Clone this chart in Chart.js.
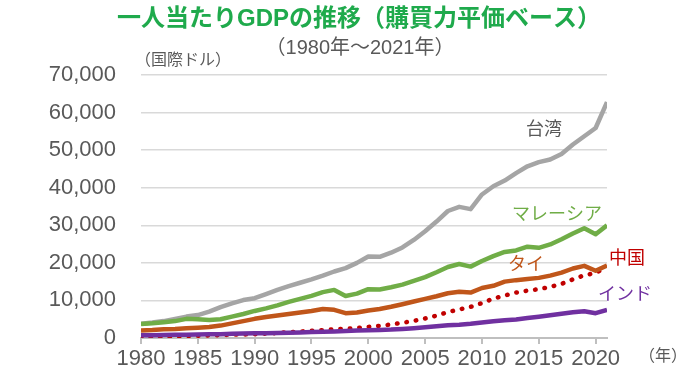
<!DOCTYPE html>
<html lang="ja">
  <head>
    <meta charset="UTF-8" />
    <title>一人当たりGDPの推移</title>
    <script src="https://cdn.jsdelivr.net/npm/chart.js@4.4.0/dist/chart.umd.min.js"></script>
    <style>
      body { margin: 0; background: #fff; }
      .contenedor { width: 700px; height: 380px; position: relative; }
    </style>
  </head>
  <body>
    <div class="contenedor">
      <canvas id="gdp"></canvas>
    </div>
    <script>
      // 1980〜2021年, 購買力平価ベース (国際ドル)
      var anios = [];
      for (var a = 1980; a <= 2021; a++) anios.push(a);

      var taiwan = [3800, 4100, 4500, 5100, 5700, 6100, 7000, 8200, 9200, 10100,
        10600, 11700, 12800, 13800, 14700, 15600, 16600, 17700, 18600, 20000,
        21700, 21600, 22700, 24100, 26100, 28400, 31000, 33800, 34900, 34300,
        38200, 40400, 41900, 43900, 45700, 46800, 47500, 49000, 51500, 53700,
        55900, 62800];
      var malasia = [3700, 3900, 4200, 4500, 5100, 5000, 4800, 5000, 5700, 6400,
        7200, 7900, 8700, 9600, 10400, 11200, 12200, 12800, 11200, 11800,
        13000, 12900, 13500, 14200, 15200, 16200, 17500, 18900, 19700, 19000,
        20500, 21800, 22900, 23300, 24300, 24000, 24900, 26300, 27800, 29200,
        27600, 30000];
      var tailandia = [2000, 2100, 2300, 2400, 2600, 2750, 2950, 3300, 3900, 4500,
        5100, 5600, 6000, 6400, 6800, 7200, 7700, 7500, 6600, 6800,
        7300, 7700, 8300, 9000, 9700, 10400, 11100, 11900, 12300, 12100,
        13300, 13900, 15000, 15400, 15700, 16000, 16600, 17400, 18500, 19200,
        17900, 19300];
      var china = [300, 340, 390, 450, 530, 610, 680, 780, 880, 950,
        1020, 1150, 1330, 1530, 1720, 1900, 2100, 2300, 2450, 2650,
        2950, 3250, 3600, 4050, 4550, 5200, 5950, 6900, 7600, 8300,
        9300, 10500, 11300, 12100, 12600, 13000, 13600, 14400, 15600, 16700,
        17300, 18900];
      var india = [700, 760, 800, 850, 890, 940, 980, 1020, 1110, 1180,
        1250, 1260, 1330, 1400, 1480, 1580, 1690, 1750, 1840, 1980,
        2050, 2150, 2240, 2420, 2620, 2850, 3100, 3400, 3550, 3800,
        4150, 4450, 4700, 4950, 5300, 5650, 6050, 6450, 6850, 7100,
        6600, 7500];

      var gris = "#595959";

      var textos = {
        id: "textos",
        afterDraw(chart) {
          const ctx = chart.ctx;
          ctx.save();
          ctx.textAlign = "center";
          ctx.textBaseline = "middle";
          ctx.fillStyle = "#1FAA4C";
          ctx.font = "bold 24px 'Liberation Sans', 'Noto Sans CJK JP', sans-serif";
          ctx.fillText("一人当たりGDPの推移（購買力平価ベース）", 359, 19);
          ctx.fillStyle = gris;
          ctx.font = "20px 'Liberation Sans', 'Noto Sans CJK JP', sans-serif";
          ctx.fillText("（1980年～2021年）", 360, 48);
          ctx.font = "16px 'Liberation Sans', 'Noto Sans CJK JP', sans-serif";
          ctx.fillText("（国際ドル）", 183, 61);
          ctx.fillText("（年）", 663, 357);
          // etiquetas de las series
          ctx.font = "18px 'Noto Sans CJK JP', sans-serif";
          ctx.fillStyle = gris;
          ctx.fillText("台湾", 544, 128);
          ctx.fillStyle = "#70AD47";
          ctx.fillText("マレーシア", 557, 213);
          ctx.fillStyle = "#C0561A";
          ctx.fillText("タイ", 526, 263);
          ctx.fillStyle = "#C00000";
          ctx.fillText("中国", 627, 257);
          ctx.fillStyle = "#7030A0";
          ctx.fillText("インド", 625, 293);
          ctx.restore();
        },
      };

      new Chart(document.getElementById("gdp"), {
        type: "line",
        data: {
          labels: anios,
          datasets: [
            { label: "台湾", data: taiwan, borderColor: "#A5A5A5", order: 5 },
            { label: "マレーシア", data: malasia, borderColor: "#70AD47", order: 2 },
            { label: "タイ", data: tailandia, borderColor: "#C0561A", order: 3 },
            {
              label: "中国",
              data: china,
              borderColor: "#C00000",
              borderDash: [0.5, 9],
              borderCapStyle: "round",
              order: 4,
            },
            { label: "インド", data: india, borderColor: "#7030A0", order: 1 },
          ],
        },
        options: {
          responsive: true,
          maintainAspectRatio: false,
          animation: false,
          layout: { padding: { top: 75, right: 93, left: 0, bottom: 0 } },
          elements: {
            point: { radius: 0 },
            line: { borderWidth: 4.5, tension: 0, borderJoinStyle: "round" },
          },
          plugins: {
            legend: { display: false },
            tooltip: { enabled: false },
          },
          scales: {
            x: {
              type: "linear",
              min: 1980,
              max: 2021,
              afterFit(scale) { scale.height = 42; },
              ticks: {
                stepSize: 5,
                includeBounds: false,
                padding: 2,
                color: gris,
                font: { family: "'Liberation Sans', sans-serif", size: 22 },
                callback: function (v) { return String(v); },
              },
              grid: {
                drawOnChartArea: false,
                drawTicks: true,
                tickLength: 6,
                color: "#BFBFBF",
                lineWidth: 2,
              },
              border: { color: "#BFBFBF", width: 2 },
            },
            y: {
              min: 0,
              max: 70000,
              afterFit(scale) { scale.width = 141; },
              ticks: {
                stepSize: 10000,
                padding: 25,
                color: gris,
                font: { family: "'Liberation Sans', sans-serif", size: 22 },
                callback: function (v) { return v.toLocaleString("en-US"); },
              },
              grid: { color: "#D9D9D9", lineWidth: 1.5, drawTicks: false },
              border: { display: false },
            },
          },
        },
        plugins: [textos],
      });
    </script>
  </body>
</html>
